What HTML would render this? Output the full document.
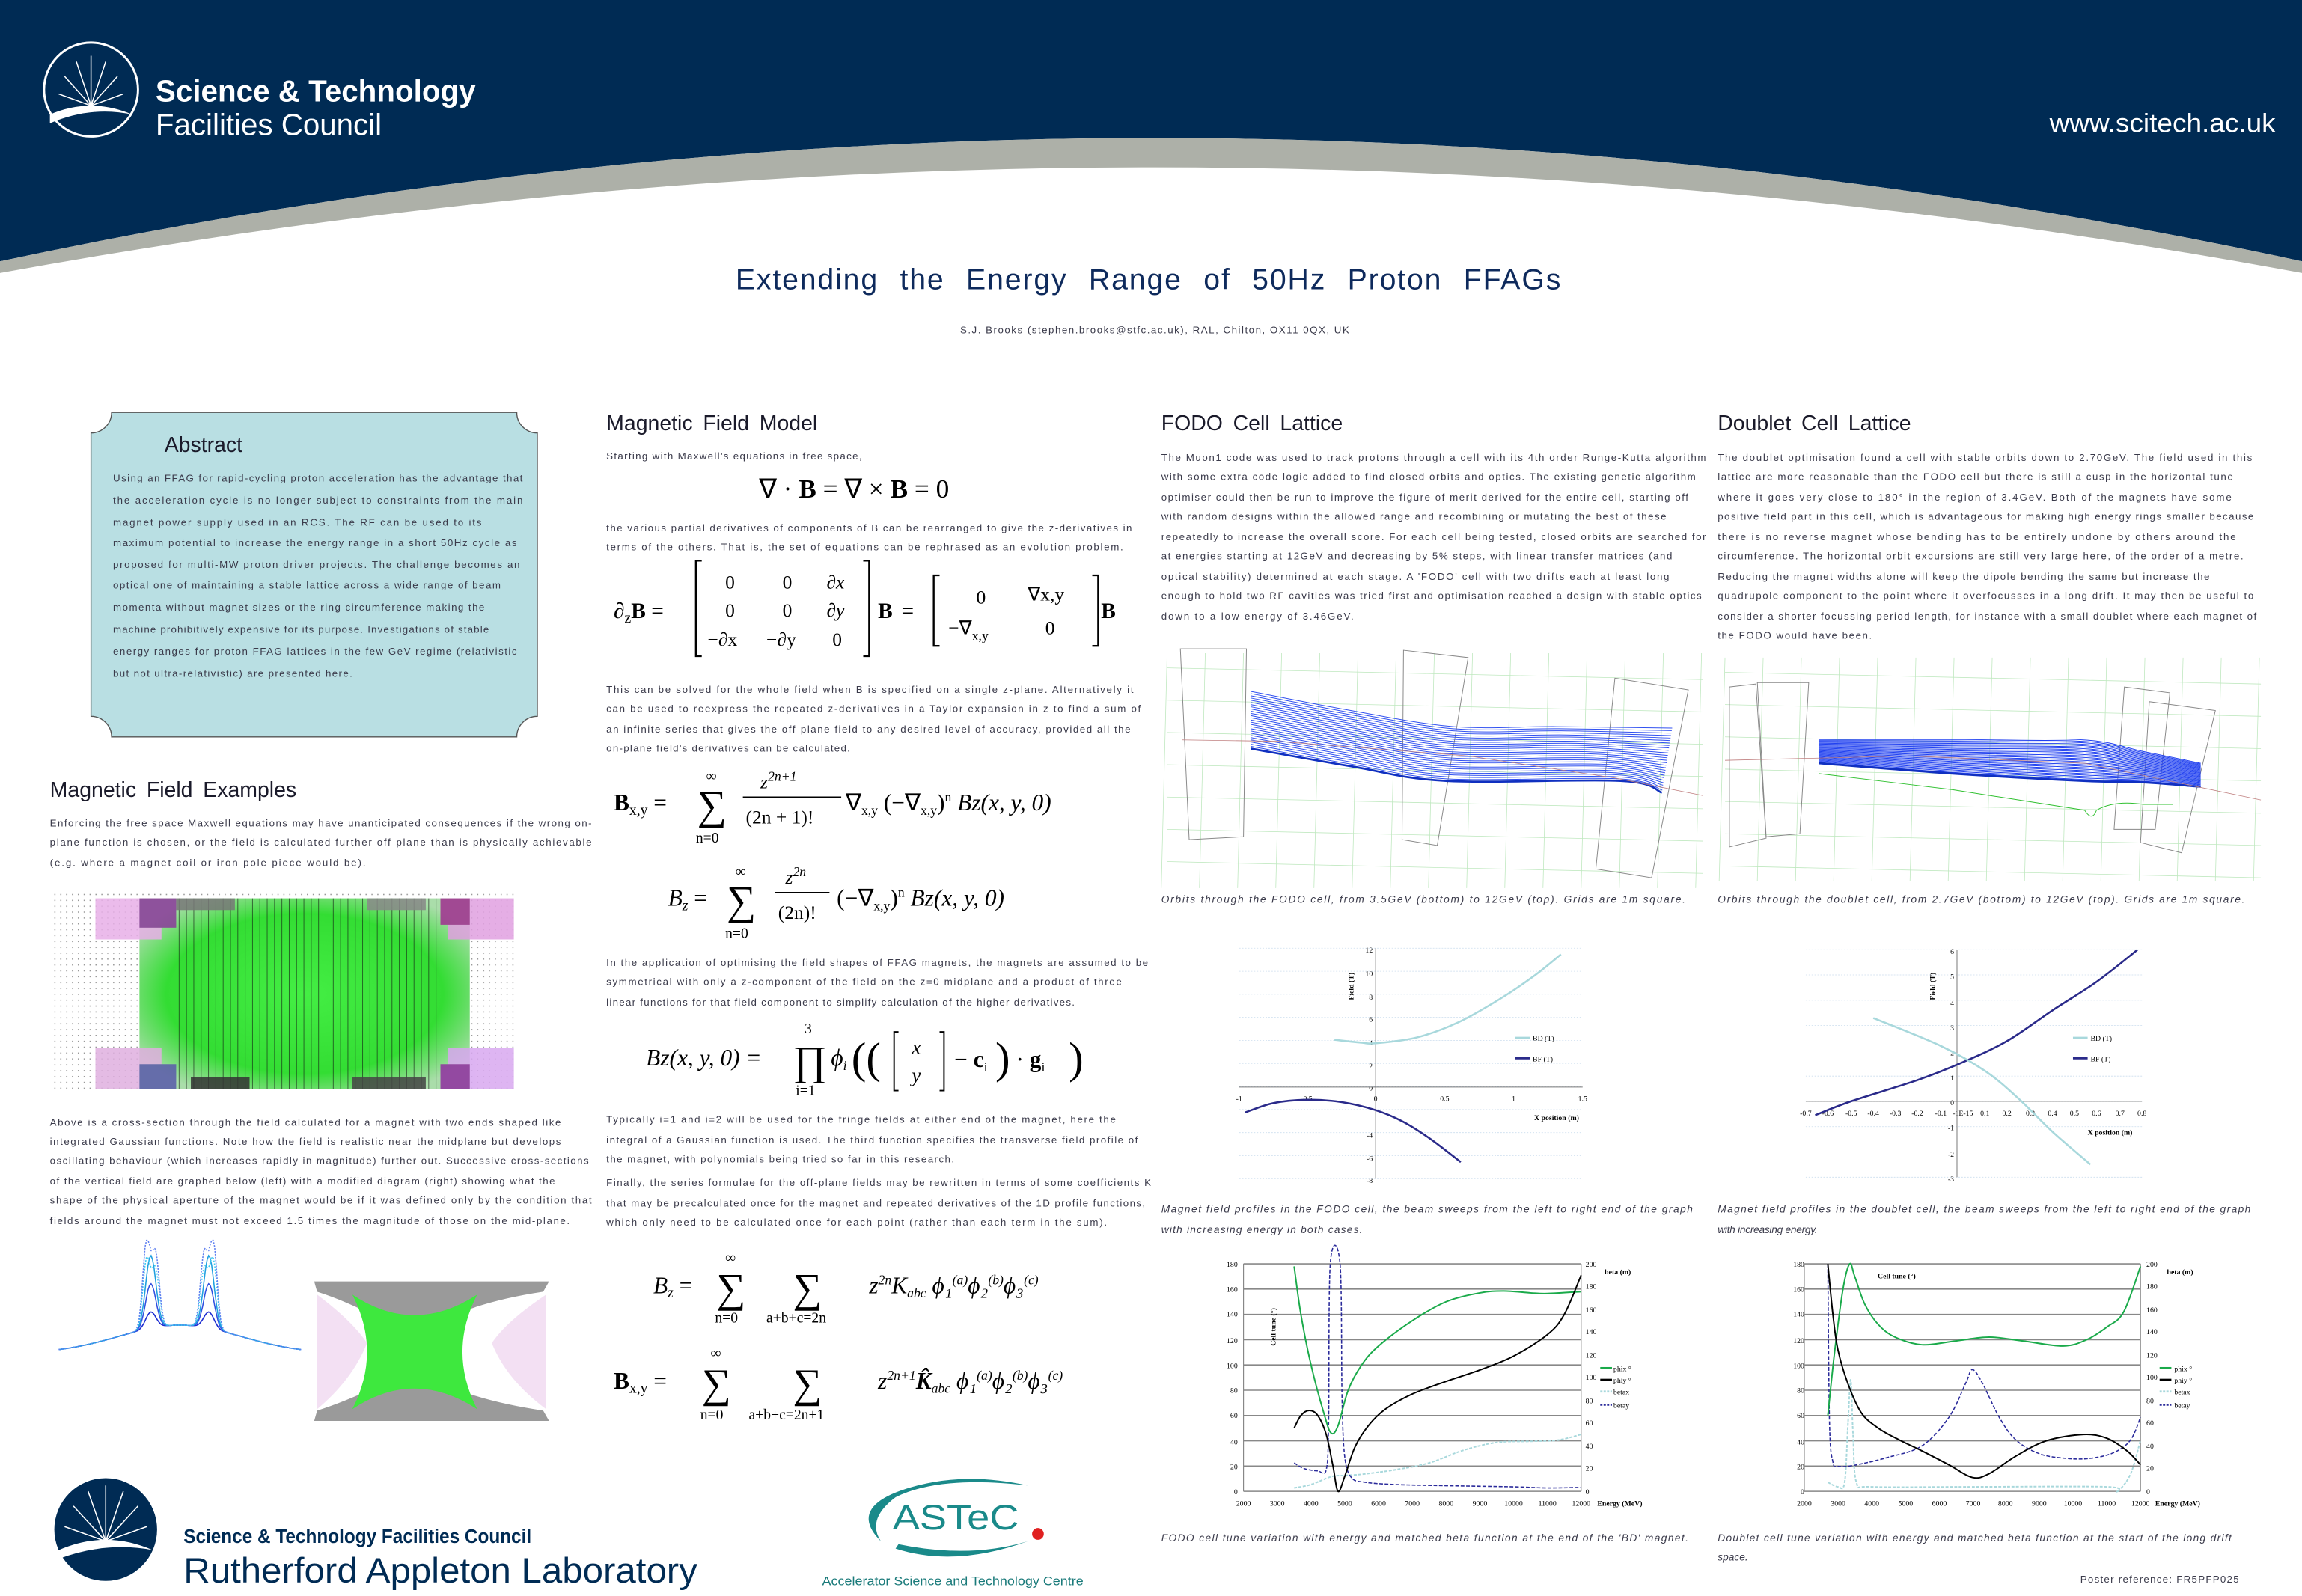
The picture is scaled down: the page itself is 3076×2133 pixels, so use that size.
<!DOCTYPE html>
<html><head><meta charset="utf-8">
<style>
html,body{margin:0;padding:0;background:#fff;}
svg{display:block;}
.b{font-family:"Liberation Sans",sans-serif;font-size:6.8px;fill:#3a3a4a;}
.c{font-family:"Liberation Sans",sans-serif;font-size:7px;fill:#3a3a4a;font-style:italic;}
.h{font-family:"Liberation Sans",sans-serif;font-size:14.5px;fill:#1a1a2a;word-spacing:3px;}
.e{font-family:"Liberation Serif",serif;fill:#000;}
.t{font-family:"Liberation Serif",serif;font-size:5px;fill:#000;}
.tb{font-family:"Liberation Serif",serif;font-size:5px;fill:#000;font-weight:bold;}
</style></head><body>
<svg xmlns="http://www.w3.org/2000/svg" width="3076" height="2133" viewBox="0 0 1568 1087.3" preserveAspectRatio="none">
<rect width="1568" height="1088" fill="#fff"/>
<path d="M0,0 H1568 V178 Q790,10 0,178 Z" fill="#002b54"/>
<path d="M0,178 Q790,10 1568,178 V186 Q790,42 0,186 Z" fill="#adb0a8"/>
<circle cx="62" cy="61" r="32" fill="none" stroke="#fff" stroke-width="1.5"/>
<g stroke="#fff" stroke-width="0.8">
<line x1="62" y1="72" x2="62" y2="38"/><line x1="62" y1="72" x2="52" y2="42"/><line x1="62" y1="72" x2="72" y2="42"/>
<line x1="62" y1="72" x2="44" y2="52"/><line x1="62" y1="72" x2="80" y2="52"/><line x1="62" y1="72" x2="40" y2="64"/><line x1="62" y1="72" x2="84" y2="64"/>
</g>
<path d="M34,78 Q62,66 90,78 Q62,72 34,84 Z" fill="#fff"/>
<text x="106" y="69" font-family="Liberation Sans,sans-serif" font-size="21" font-weight="bold" fill="#fff" textLength="218" lengthAdjust="spacingAndGlyphs">Science &amp; Technology</text>
<text x="106" y="92" font-family="Liberation Sans,sans-serif" font-size="21" fill="#fff" textLength="154" lengthAdjust="spacingAndGlyphs">Facilities Council</text>
<text x="1550" y="90" text-anchor="end" font-family="Liberation Sans,sans-serif" font-size="18" fill="#fff" textLength="154" lengthAdjust="spacingAndGlyphs">www.scitech.ac.uk</text>

<text x="501" y="197" font-family="Liberation Sans,sans-serif" font-size="20" fill="#0e2a5c" textLength="562" lengthAdjust="spacing" word-spacing="8">Extending the Energy Range of 50Hz Proton FFAGs</text>
<text x="654" y="227" class="b" font-size="6.5" textLength="265" lengthAdjust="spacing">S.J. Brooks (stephen.brooks@stfc.ac.uk), RAL, Chilton, OX11 0QX, UK</text>

<path d="M76,281 H352 A14,14 0 0 0 366,295 V488 A14,14 0 0 0 352,502 H76 A14,14 0 0 0 62,488 V295 A14,14 0 0 0 76,281 Z" fill="#b9dfe3" stroke="#555" stroke-width="0.7"/>
<text x="112" y="308" class="h">Abstract</text>
<g class="b">
<text x="77" y="328" textLength="279" lengthAdjust="spacing">Using an FFAG for rapid-cycling proton acceleration has the advantage that</text>
<text x="77" y="343" textLength="279" lengthAdjust="spacing">the acceleration cycle is no longer subject to constraints from the main</text>
<text x="77" y="358" textLength="251" lengthAdjust="spacing">magnet power supply used in an RCS. The RF can be used to its</text>
<text x="77" y="372" textLength="275" lengthAdjust="spacing">maximum potential to increase the energy range in a short 50Hz cycle as</text>
<text x="77" y="387" textLength="277" lengthAdjust="spacing">proposed for multi-MW proton driver projects. The challenge becomes an</text>
<text x="77" y="401" textLength="264" lengthAdjust="spacing">optical one of maintaining a stable lattice across a wide range of beam</text>
<text x="77" y="416" textLength="253" lengthAdjust="spacing">momenta without magnet sizes or the ring circumference making the</text>
<text x="77" y="431" textLength="256" lengthAdjust="spacing">machine prohibitively expensive for its purpose. Investigations of stable</text>
<text x="77" y="446" textLength="275" lengthAdjust="spacing">energy ranges for proton FFAG lattices in the few GeV regime (relativistic</text>
<text x="77" y="461" textLength="163" lengthAdjust="spacing">but not ultra-relativistic) are presented here.</text>
</g>

<text x="34" y="543" class="h">Magnetic Field Examples</text>
<g class="b">
<text x="34" y="563" textLength="369" lengthAdjust="spacing">Enforcing the free space Maxwell equations may have unanticipated consequences if the wrong on-</text>
<text x="34" y="576" textLength="369" lengthAdjust="spacing">plane function is chosen, or the field is calculated further off-plane than is physically achievable</text>
<text x="34" y="590" textLength="215" lengthAdjust="spacing">(e.g. where a magnet coil or iron pole piece would be).</text>
</g>
<defs>
<pattern id="dots" width="4" height="4" patternUnits="userSpaceOnUse"><rect x="1" y="1" width="0.8" height="0.8" fill="#999"/></pattern>
<radialGradient id="gr" cx="0.5" cy="0.5" r="0.6"><stop offset="0" stop-color="#44ee44"/><stop offset="0.7" stop-color="#33dd33"/><stop offset="1" stop-color="#aaddaa"/></radialGradient>
<pattern id="vl" width="5" height="10" patternUnits="userSpaceOnUse"><line x1="2" y1="0" x2="2" y2="10" stroke="#111" stroke-width="0.5"/></pattern>
</defs>
<rect x="36" y="608" width="314" height="136" fill="url(#dots)"/>
<rect x="95" y="612" width="225" height="130" fill="url(#gr)"/>
<rect x="120" y="612" width="180" height="130" fill="url(#vl)" opacity="0.6"/>
<g opacity="0.85">
<rect x="65" y="612" width="45" height="28" fill="#e8b0e8"/><rect x="305" y="612" width="45" height="28" fill="#e0a0e0"/>
<rect x="65" y="714" width="45" height="28" fill="#e0b0e0"/><rect x="305" y="714" width="45" height="28" fill="#d8a8f0"/>
<rect x="95" y="612" width="25" height="20" fill="#8a3a9a"/><rect x="300" y="612" width="20" height="18" fill="#a03090"/>
<rect x="95" y="725" width="25" height="17" fill="#5a5aaa"/><rect x="300" y="725" width="20" height="17" fill="#9030a0"/>
<rect x="120" y="612" width="40" height="8" fill="#777"/><rect x="250" y="612" width="40" height="8" fill="#888"/>
<rect x="130" y="734" width="40" height="8" fill="#333"/><rect x="240" y="734" width="50" height="8" fill="#444"/>
</g>
<g class="b">
<text x="34" y="767" textLength="348" lengthAdjust="spacing">Above is a cross-section through the field calculated for a magnet with two ends shaped like</text>
<text x="34" y="780" textLength="348" lengthAdjust="spacing">integrated Gaussian functions.  Note how the field is realistic near the midplane but develops</text>
<text x="34" y="793" textLength="367" lengthAdjust="spacing">oscillating behaviour (which increases rapidly in magnitude) further out.  Successive cross-sections</text>
<text x="34" y="807" textLength="344" lengthAdjust="spacing">of the vertical field are graphed below (left) with a modified diagram (right) showing what the</text>
<text x="34" y="820" textLength="369" lengthAdjust="spacing">shape of the physical aperture of the magnet would be if it was defined only by the condition that</text>
<text x="34" y="834" textLength="354" lengthAdjust="spacing">fields around the magnet must not exceed 1.5 times the magnitude of those on the mid-plane.</text>
</g>
<g id="osc" fill="none" stroke-width="0.8"></g>
<path d="M214,873 L374,873 L370,880 Q330,886 305,898 L258,898 Q235,886 216,880 Z" fill="#9a9a9a"/>
<path d="M214,968 L374,968 L370,961 Q330,955 305,944 L258,944 Q235,955 216,961 Z" fill="#9a9a9a"/>
<path d="M240,882 Q282,910 325,882 Q305,921 325,960 Q282,932 240,960 Q260,921 240,882 Z" fill="#3ee83e"/>
<path d="M216,882 Q240,900 250,915 Q240,940 216,960 Z" fill="#f0d8f0" opacity="0.8"/>
<path d="M372,882 Q345,900 335,915 Q345,940 372,960 Z" fill="#f0d8f0" opacity="0.8"/>

<text x="413" y="293" class="h">Magnetic Field Model</text>
<g class="b">
<text x="413" y="313" textLength="174" lengthAdjust="spacing">Starting with Maxwell's equations in free space,</text>
<text x="413" y="362" textLength="358" lengthAdjust="spacing">the various partial derivatives of components of B can be rearranged to give the z-derivatives in</text>
<text x="413" y="375" textLength="352" lengthAdjust="spacing">terms of the others.  That is, the set of equations can be rephrased as an evolution problem.</text>
<text x="413" y="472" textLength="359" lengthAdjust="spacing">This can be solved for the whole field when B is specified on a single z-plane.  Alternatively it</text>
<text x="413" y="485" textLength="364" lengthAdjust="spacing">can be used to reexpress the repeated z-derivatives in a Taylor expansion in z to find a sum of</text>
<text x="413" y="499" textLength="357" lengthAdjust="spacing">an infinite series that gives the off-plane field to any desired level of accuracy, provided all the</text>
<text x="413" y="512" textLength="166" lengthAdjust="spacing">on-plane field's derivatives can be calculated.</text>
<text x="413" y="658" textLength="369" lengthAdjust="spacing">In the application of optimising the field shapes of FFAG magnets, the magnets are assumed to be</text>
<text x="413" y="671" textLength="351" lengthAdjust="spacing">symmetrical with only a z-component of the field on the z=0 midplane and a product of three</text>
<text x="413" y="685" textLength="319" lengthAdjust="spacing">linear functions for that field component to simplify calculation of the higher derivatives.</text>
<text x="413" y="765" textLength="347" lengthAdjust="spacing">Typically i=1 and i=2 will be used for the fringe fields at either end of the magnet, here the</text>
<text x="413" y="779" textLength="362" lengthAdjust="spacing">integral of a Gaussian function is used.  The third function specifies the transverse field profile of</text>
<text x="413" y="792" textLength="237" lengthAdjust="spacing">the magnet, with polynomials being tried so far in this research.</text>
<text x="413" y="808" textLength="371" lengthAdjust="spacing">Finally, the series formulae for the off-plane fields may be rewritten in terms of some coefficients K</text>
<text x="413" y="822" textLength="367" lengthAdjust="spacing">that may be precalculated once for the magnet and repeated derivatives of the 1D profile functions,</text>
<text x="413" y="835" textLength="341" lengthAdjust="spacing">which only need to be calculated once for each point (rather than each term in the sum).</text>
</g>
<text x="517" y="339" class="e" font-size="18">∇ · <tspan font-weight="bold">B</tspan> = ∇ × <tspan font-weight="bold">B</tspan> = 0</text>
<g class="e" font-size="15">
<text x="418" y="421">∂<tspan font-size="10" dy="3">z</tspan><tspan dy="-3" font-weight="bold">B</tspan> =</text>
<path d="M478,382 h-4 v65 h4 M588,382 h4 v65 h-4 M640,392 h-4 v48 h4 M744,392 h4 v48 h-4" stroke="#000" fill="none" stroke-width="1.2"/>
<text x="494" y="401" font-size="13">0</text><text x="533" y="401" font-size="13">0</text><text x="563" y="401" font-style="italic" font-size="13">∂x</text>
<text x="494" y="420" font-size="13">0</text><text x="533" y="420" font-size="13">0</text><text x="563" y="420" font-style="italic" font-size="13">∂y</text>
<text x="482" y="440" font-size="13">−∂x</text><text x="522" y="440" font-size="13">−∂y</text><text x="567" y="440" font-size="13">0</text>
<text x="598" y="421" font-weight="bold">B</text><text x="614" y="421">=</text>
<text x="665" y="411" font-size="13">0</text><text x="700" y="409" font-size="13">∇x,y</text>
<text x="646" y="432" font-size="13">−∇<tspan font-size="9" dy="4">x,y</tspan></text><text x="712" y="432" font-size="13">0</text>
<text x="750" y="421" font-weight="bold">B</text>
</g>
<g class="e" font-size="16">
<text x="418" y="552"><tspan font-weight="bold">B</tspan><tspan font-size="10" dy="3">x,y</tspan><tspan dy="-3"> = </tspan></text>
<text x="475" y="558" font-size="28">∑</text><text x="481" y="532" font-size="10">∞</text><text x="474" y="574" font-size="10">n=0</text>
<text x="518" y="537" font-size="13" font-style="italic">z<tspan font-size="9" dy="-5">2n+1</tspan></text>
<line x1="506" y1="543" x2="573" y2="543" stroke="#000" stroke-width="0.8"/>
<text x="508" y="561" font-size="13">(2n + 1)!</text>
<text x="576" y="552">∇<tspan font-size="9" dy="3">x,y</tspan><tspan dy="-3"> (−∇</tspan><tspan font-size="9" dy="3">x,y</tspan><tspan dy="-3">)</tspan><tspan font-size="9" dy="-6">n</tspan><tspan dy="6" font-style="italic"> Bz(x, y, 0)</tspan></text>
<text x="455" y="617" font-style="italic">B<tspan font-size="10" dy="3">z</tspan><tspan dy="-3" font-style="normal"> = </tspan></text>
<text x="495" y="623" font-size="28">∑</text><text x="501" y="597" font-size="10">∞</text><text x="494" y="639" font-size="10">n=0</text>
<text x="535" y="602" font-size="13" font-style="italic">z<tspan font-size="9" dy="-5">2n</tspan></text>
<line x1="528" y1="608" x2="565" y2="608" stroke="#000" stroke-width="0.8"/>
<text x="530" y="626" font-size="13">(2n)!</text>
<text x="570" y="617">(−∇<tspan font-size="9" dy="3">x,y</tspan><tspan dy="-3">)</tspan><tspan font-size="9" dy="-6">n</tspan><tspan dy="6" font-style="italic"> Bz(x, y, 0)</tspan></text>
<text x="440" y="726" font-style="italic">Bz(x, y, 0) = </text>
<text x="540" y="732" font-size="28">∏</text><text x="548" y="704" font-size="10">3</text><text x="542" y="746" font-size="10">i=1</text>
<text x="566" y="726" font-style="italic">ϕ<tspan font-size="9" dy="3">i</tspan></text>
<text x="580" y="731" font-size="30">((</text>
<path d="M612,703 h-3 v40 h3 M640,703 h3 v40 h-3" stroke="#000" fill="none"/>
<text x="621" y="718" font-style="italic" font-size="14">x</text><text x="621" y="737" font-style="italic" font-size="14">y</text>
<text x="650" y="727">− <tspan font-weight="bold">c</tspan><tspan font-size="9" dy="3">i</tspan></text>
<text x="678" y="731" font-size="30">)</text><text x="692" y="727">· <tspan font-weight="bold">g</tspan><tspan font-size="9" dy="3">i</tspan></text>
<text x="728" y="731" font-size="30">)</text>
<text x="445" y="881" font-style="italic">B<tspan font-size="10" dy="3">z</tspan><tspan dy="-3" font-style="normal"> = </tspan></text>
<text x="488" y="887" font-size="28">∑</text><text x="494" y="860" font-size="10">∞</text><text x="487" y="901" font-size="10">n=0</text>
<text x="540" y="887" font-size="28">∑</text><text x="522" y="901" font-size="10">a+b+c=2n</text>
<text x="592" y="881" font-style="italic">z<tspan font-size="9" dy="-6">2n</tspan><tspan dy="6">K</tspan><tspan font-size="9" dy="3">abc</tspan><tspan dy="-3"> ϕ₁</tspan><tspan font-size="9" dy="-6">(a)</tspan><tspan dy="6">ϕ₂</tspan><tspan font-size="9" dy="-6">(b)</tspan><tspan dy="6">ϕ₃</tspan><tspan font-size="9" dy="-6">(c)</tspan></text>
<text x="418" y="946"><tspan font-weight="bold">B</tspan><tspan font-size="10" dy="3">x,y</tspan><tspan dy="-3"> = </tspan></text>
<text x="478" y="952" font-size="28">∑</text><text x="484" y="925" font-size="10">∞</text><text x="477" y="967" font-size="10">n=0</text>
<text x="540" y="952" font-size="28">∑</text><text x="510" y="967" font-size="10">a+b+c=2n+1</text>
<text x="598" y="946" font-style="italic">z<tspan font-size="9" dy="-6">2n+1</tspan><tspan dy="6" font-weight="bold">K̂</tspan><tspan font-size="9" dy="3">abc</tspan><tspan dy="-3"> ϕ₁</tspan><tspan font-size="9" dy="-6">(a)</tspan><tspan dy="6">ϕ₂</tspan><tspan font-size="9" dy="-6">(b)</tspan><tspan dy="6">ϕ₃</tspan><tspan font-size="9" dy="-6">(c)</tspan></text>
</g>

<text x="791" y="293" class="h">FODO Cell Lattice</text>
<g class="b">
<text x="791" y="314" textLength="371" lengthAdjust="spacing">The Muon1 code was used to track protons through a cell with its 4th order Runge-Kutta algorithm</text>
<text x="791" y="327" textLength="364" lengthAdjust="spacing">with some extra code logic added to find closed orbits and optics.  The existing genetic algorithm</text>
<text x="791" y="341" textLength="359" lengthAdjust="spacing">optimiser could then be run to improve the figure of merit derived for the entire cell, starting off</text>
<text x="791" y="354" textLength="344" lengthAdjust="spacing">with random designs within the allowed range and recombining or mutating the best of these</text>
<text x="791" y="368" textLength="371" lengthAdjust="spacing">repeatedly to increase the overall score.  For each cell being tested, closed orbits are searched for</text>
<text x="791" y="381" textLength="348" lengthAdjust="spacing">at energies starting at 12GeV and decreasing by 5% steps, with linear transfer matrices (and</text>
<text x="791" y="395" textLength="346" lengthAdjust="spacing">optical stability) determined at each stage.  A 'FODO' cell with two drifts each at least long</text>
<text x="791" y="408" textLength="368" lengthAdjust="spacing">enough to hold two RF cavities was tried first and optimisation reached a design with stable optics</text>
<text x="791" y="422" textLength="131" lengthAdjust="spacing">down to a low energy of 3.46GeV.</text>
</g>
<g class="c">
<text x="791" y="615" textLength="357" lengthAdjust="spacing">Orbits through the FODO cell, from 3.5GeV (bottom) to 12GeV (top).  Grids are 1m square.</text>
<text x="791" y="826" textLength="362" lengthAdjust="spacing">Magnet field profiles in the FODO cell, the beam sweeps from the left to right end of the graph</text>
<text x="791" y="840" textLength="137" lengthAdjust="spacing">with increasing energy in both cases.</text>
<text x="791" y="1050" textLength="359" lengthAdjust="spacing">FODO cell tune variation with energy and matched beta function at the end of the 'BD' magnet.</text>
</g>

<text x="1170" y="293" class="h">Doublet Cell Lattice</text>
<g class="b">
<text x="1170" y="314" textLength="364" lengthAdjust="spacing">The doublet optimisation found a cell with stable orbits down to 2.70GeV.  The field used in this</text>
<text x="1170" y="327" textLength="351" lengthAdjust="spacing">lattice are more reasonable than the FODO cell but there is still a cusp in the horizontal tune</text>
<text x="1170" y="341" textLength="350" lengthAdjust="spacing">where it goes very close to 180° in the region of 3.4GeV.  Both of the magnets have some</text>
<text x="1170" y="354" textLength="365" lengthAdjust="spacing">positive field part in this cell, which is advantageous for making high energy rings smaller because</text>
<text x="1170" y="368" textLength="353" lengthAdjust="spacing">there is no reverse magnet whose bending has to be entirely undone by others around the</text>
<text x="1170" y="381" textLength="358" lengthAdjust="spacing">circumference.  The horizontal orbit excursions are still very large here, of the order of a metre.</text>
<text x="1170" y="395" textLength="335" lengthAdjust="spacing">Reducing the magnet widths alone will keep the dipole bending the same but increase the</text>
<text x="1170" y="408" textLength="365" lengthAdjust="spacing">quadrupole component to the point where it overfocusses in a long drift.  It may then be useful to</text>
<text x="1170" y="422" textLength="367" lengthAdjust="spacing">consider a shorter focussing period length, for instance with a small doublet where each magnet of</text>
<text x="1170" y="435" textLength="105" lengthAdjust="spacing">the FODO would have been.</text>
</g>
<g class="c">
<text x="1170" y="615" textLength="359" lengthAdjust="spacing">Orbits through the doublet cell, from 2.7GeV (bottom) to 12GeV (top).  Grids are 1m square.</text>
<text x="1170" y="826" textLength="363" lengthAdjust="spacing">Magnet field profiles in the doublet cell, the beam sweeps from the left to right end of the graph</text>
<text x="1170" y="840" textLength="68" lengthAdjust="spacing">with increasing energy.</text>
<text x="1170" y="1050" textLength="350" lengthAdjust="spacing">Doublet cell tune variation with energy and matched beta function at the start of the long drift</text>
<text x="1170" y="1063">space.</text>
</g>
<text x="1525" y="1078" text-anchor="end" class="b" textLength="108" lengthAdjust="spacing">Poster reference: FR5PFP025</text>

<g id="lat"></g>

<g class="t">
<text x="935" y="649" text-anchor="end">12</text><text x="935" y="665" text-anchor="end">10</text><text x="935" y="681" text-anchor="end">8</text><text x="935" y="696" text-anchor="end">6</text><text x="935" y="712" text-anchor="end">4</text><text x="935" y="728" text-anchor="end">2</text><text x="935" y="743" text-anchor="end">0</text><text x="935" y="775" text-anchor="end">-4</text><text x="935" y="791" text-anchor="end">-6</text><text x="935" y="806" text-anchor="end">-8</text>
<text x="844" y="750" text-anchor="middle">-1</text><text x="890" y="750" text-anchor="middle">-0.5</text><text x="937" y="750" text-anchor="middle">0</text><text x="984" y="750" text-anchor="middle">0.5</text><text x="1031" y="750" text-anchor="middle">1</text><text x="1078" y="750" text-anchor="middle">1.5</text>
<text x="1044" y="709">BD (T)</text><text x="1044" y="723">BF (T)</text>
<text x="1331" y="650" text-anchor="end">6</text><text x="1331" y="667" text-anchor="end">5</text><text x="1331" y="685" text-anchor="end">4</text><text x="1331" y="702" text-anchor="end">3</text><text x="1331" y="719" text-anchor="end">2</text><text x="1331" y="736" text-anchor="end">1</text><text x="1331" y="753" text-anchor="end">0</text><text x="1331" y="770" text-anchor="end">-1</text><text x="1331" y="788" text-anchor="end">-2</text><text x="1331" y="805" text-anchor="end">-3</text>
<text x="1230" y="760" text-anchor="middle">-0.7</text><text x="1245" y="760" text-anchor="middle">-0.6</text><text x="1261" y="760" text-anchor="middle">-0.5</text><text x="1276" y="760" text-anchor="middle">-0.4</text><text x="1291" y="760" text-anchor="middle">-0.3</text><text x="1306" y="760" text-anchor="middle">-0.2</text><text x="1322" y="760" text-anchor="middle">-0.1</text><text x="1337" y="760" text-anchor="middle">-1E-15</text><text x="1352" y="760" text-anchor="middle">0.1</text><text x="1367" y="760" text-anchor="middle">0.2</text><text x="1383" y="760" text-anchor="middle">0.3</text><text x="1398" y="760" text-anchor="middle">0.4</text><text x="1413" y="760" text-anchor="middle">0.5</text><text x="1428" y="760" text-anchor="middle">0.6</text><text x="1444" y="760" text-anchor="middle">0.7</text><text x="1459" y="760" text-anchor="middle">0.8</text>
<text x="1424" y="709">BD (T)</text><text x="1424" y="723">BF (T)</text>
</g>
<g class="tb">
<text x="1045" y="763">X position (m)</text>
<text x="1422" y="773">X position (m)</text>
<text transform="translate(922,672) rotate(-90)" text-anchor="middle">Field (T)</text>
<text transform="translate(1318,672) rotate(-90)" text-anchor="middle">Field (T)</text>
</g>
<g id="fld"></g>

<g id="tune"></g>
<g class="t">
<text x="843" y="1018" text-anchor="end">0</text><text x="843" y="1001" text-anchor="end">20</text><text x="843" y="984" text-anchor="end">40</text><text x="843" y="966" text-anchor="end">60</text><text x="843" y="949" text-anchor="end">80</text><text x="843" y="932" text-anchor="end">100</text><text x="843" y="915" text-anchor="end">120</text><text x="843" y="897" text-anchor="end">140</text><text x="843" y="880" text-anchor="end">160</text><text x="843" y="863" text-anchor="end">180</text>
<text x="1080" y="1018">0</text><text x="1080" y="1002">20</text><text x="1080" y="987">40</text><text x="1080" y="971">60</text><text x="1080" y="956">80</text><text x="1080" y="940">100</text><text x="1080" y="925">120</text><text x="1080" y="909">140</text><text x="1080" y="894">160</text><text x="1080" y="878">180</text><text x="1080" y="863">200</text>
<text x="847" y="1026" text-anchor="middle">2000</text><text x="870" y="1026" text-anchor="middle">3000</text><text x="893" y="1026" text-anchor="middle">4000</text><text x="916" y="1026" text-anchor="middle">5000</text><text x="939" y="1026" text-anchor="middle">6000</text><text x="962" y="1026" text-anchor="middle">7000</text><text x="985" y="1026" text-anchor="middle">8000</text><text x="1008" y="1026" text-anchor="middle">9000</text><text x="1031" y="1026" text-anchor="middle">10000</text><text x="1054" y="1026" text-anchor="middle">11000</text><text x="1077" y="1026" text-anchor="middle">12000</text>
<text x="1099" y="934">phix °</text><text x="1099" y="942">phiy °</text><text x="1099" y="950">betax</text><text x="1099" y="959">betay</text>
<text x="1229" y="1018" text-anchor="end">0</text><text x="1229" y="1001" text-anchor="end">20</text><text x="1229" y="984" text-anchor="end">40</text><text x="1229" y="966" text-anchor="end">60</text><text x="1229" y="949" text-anchor="end">80</text><text x="1229" y="932" text-anchor="end">100</text><text x="1229" y="915" text-anchor="end">120</text><text x="1229" y="897" text-anchor="end">140</text><text x="1229" y="880" text-anchor="end">160</text><text x="1229" y="863" text-anchor="end">180</text>
<text x="1462" y="1018">0</text><text x="1462" y="1002">20</text><text x="1462" y="987">40</text><text x="1462" y="971">60</text><text x="1462" y="956">80</text><text x="1462" y="940">100</text><text x="1462" y="925">120</text><text x="1462" y="909">140</text><text x="1462" y="894">160</text><text x="1462" y="878">180</text><text x="1462" y="863">200</text>
<text x="1229" y="1026" text-anchor="middle">2000</text><text x="1252" y="1026" text-anchor="middle">3000</text><text x="1275" y="1026" text-anchor="middle">4000</text><text x="1298" y="1026" text-anchor="middle">5000</text><text x="1321" y="1026" text-anchor="middle">6000</text><text x="1344" y="1026" text-anchor="middle">7000</text><text x="1366" y="1026" text-anchor="middle">8000</text><text x="1389" y="1026" text-anchor="middle">9000</text><text x="1412" y="1026" text-anchor="middle">10000</text><text x="1435" y="1026" text-anchor="middle">11000</text><text x="1458" y="1026" text-anchor="middle">12000</text>
<text x="1481" y="934">phix °</text><text x="1481" y="942">phiy °</text><text x="1481" y="950">betax</text><text x="1481" y="959">betay</text>
</g>
<g class="tb">
<text x="1088" y="1026">Energy (MeV)</text><text x="1468" y="1026">Energy (MeV)</text>
<text x="1093" y="868">beta (m)</text><text x="1476" y="868">beta (m)</text>
<text x="1279" y="871">Cell tune (°)</text>
<text transform="translate(869,904) rotate(-90)" text-anchor="middle">Cell tune (°)</text>
</g>

<circle cx="72" cy="1042" r="35" fill="#002b54"/>
<g stroke="#fff" stroke-width="0.8"><line x1="72" y1="1050" x2="72" y2="1012"/><line x1="72" y1="1050" x2="60" y2="1016"/><line x1="72" y1="1050" x2="84" y2="1016"/><line x1="72" y1="1050" x2="50" y2="1026"/><line x1="72" y1="1050" x2="94" y2="1026"/><line x1="72" y1="1050" x2="44" y2="1040"/><line x1="72" y1="1050" x2="100" y2="1040"/></g>
<path d="M40,1056 Q72,1042 104,1056 Q72,1050 40,1062 Z" fill="#fff"/>
<text x="125" y="1051" font-family="Liberation Sans,sans-serif" font-size="13" font-weight="bold" fill="#002b54" textLength="237" lengthAdjust="spacingAndGlyphs">Science &amp; Technology Facilities Council</text>
<text x="125" y="1078" font-family="Liberation Sans,sans-serif" font-size="24" fill="#002b54" textLength="350" lengthAdjust="spacingAndGlyphs">Rutherford Appleton Laboratory</text>
<path d="M600,1050 Q575,1025 625,1012 Q660,1003 700,1012 Q640,1005 610,1020 Q590,1035 600,1050 Z" fill="#1a8a8a"/>
<path d="M610,1055 Q650,1068 700,1050 Q660,1062 612,1052 Z" fill="#1a8a8a"/>
<text x="608" y="1042" font-family="Liberation Sans,sans-serif" font-size="24" fill="#1a8a8a" textLength="86" lengthAdjust="spacingAndGlyphs">ASTeC</text>
<circle cx="707" cy="1045" r="4" fill="#e02020"/>
<text x="560" y="1080" font-family="Liberation Sans,sans-serif" font-size="8.5" fill="#1a7a7a" textLength="178" lengthAdjust="spacingAndGlyphs">Accelerator Science and Technology Centre</text>
</svg>
<script>
var NS="http://www.w3.org/2000/svg";
function el(p,t,a){var e=document.createElementNS(NS,t);for(var k in a)e.setAttribute(k,a[k]);p.appendChild(e);return e;}
function smooth(pts){var d="M"+pts[0][0].toFixed(2)+","+pts[0][1].toFixed(2);
for(var i=0;i<pts.length-1;i++){var p0=pts[i-1]||pts[i],p1=pts[i],p2=pts[i+1],p3=pts[i+2]||p2;
var c1=[p1[0]+(p2[0]-p0[0])/6,p1[1]+(p2[1]-p0[1])/6],c2=[p2[0]-(p3[0]-p1[0])/6,p2[1]-(p3[1]-p1[1])/6];
d+=" C"+c1[0].toFixed(2)+","+c1[1].toFixed(2)+" "+c2[0].toFixed(2)+","+c2[1].toFixed(2)+" "+p2[0].toFixed(2)+","+p2[1].toFixed(2);}return d;}
var tg=document.getElementById("tune");
function chart(x0,x1,yT,yB,S){
 var h=yB-yT,w=x1-x0;
 for(var i=0;i<=9;i++){var y=yB-i*h/9;el(tg,"line",{x1:x0,x2:x1,y1:y,y2:y,stroke:"#888","stroke-width":0.8});}
 el(tg,"line",{x1:x0,x2:x0,y1:yT,y2:yB,stroke:"#888","stroke-width":0.6});
 el(tg,"line",{x1:x1,x2:x1,y1:yT,y2:yB,stroke:"#888","stroke-width":0.6});
 function mx(E){return x0+(E-2000)/10000*w;}
 function L(d){return d.map(function(p){return [mx(p[0]),yB-p[1]/180*h];});}
 function R(d){return d.map(function(p){return [mx(p[0]),yB-p[1]/200*h];});}
 el(tg,"path",{d:smooth(R(S.bx)),fill:"none",stroke:"#a8d8dc","stroke-width":1,"stroke-dasharray":"2,1"});
 el(tg,"path",{d:smooth(R(S.by)),fill:"none",stroke:"#2a2a9a","stroke-width":0.8,"stroke-dasharray":"2.5,1.2"});
 el(tg,"path",{d:smooth(L(S.px)),fill:"none",stroke:"#1aaa4a","stroke-width":1});
 el(tg,"path",{d:smooth(L(S.py)),fill:"none",stroke:"#000","stroke-width":1});
 var lx=x1+13;
 el(tg,"line",{x1:lx,x2:lx+8,y1:932,y2:932,stroke:"#1aaa4a","stroke-width":1.4});
 el(tg,"line",{x1:lx,x2:lx+8,y1:940,y2:940,stroke:"#000","stroke-width":1.4});
 el(tg,"line",{x1:lx,x2:lx+8,y1:948,y2:948,stroke:"#a8d8dc","stroke-width":1.4,"stroke-dasharray":"1.5,0.8"});
 el(tg,"line",{x1:lx,x2:lx+8,y1:957,y2:957,stroke:"#2a2a9a","stroke-width":1.4,"stroke-dasharray":"1.5,0.8"});
}
chart(847,1077,861,1016,{
 px:[[3500,178],[3700,140],[4000,100],[4400,60],[4600,46],[4800,52],[5100,80],[5500,100],[6000,115],[7000,135],[8000,150],[9000,157],[9700,158.5],[10500,157],[11000,156.5],[12000,158]],
 py:[[3500,50],[3700,60],[3950,64],[4200,60],[4450,45],[4650,20],[4800,0],[5000,12],[5300,35],[5700,52],[6200,65],[7000,77],[8000,87],[9000,96],[10000,107],[11000,124],[11500,140],[12000,171]],
 bx:[[3500,3],[4000,6],[4600,13],[5000,14],[5500,15],[6500,19],[7500,25],[8500,36],[9500,43],[10500,44],[11300,45],[12000,50]],
 by:[[3500,25],[3800,20],[4200,18],[4450,19],[4520,60],[4570,200],[4860,200],[4920,80],[5000,30],[5200,12],[5600,8],[6500,6],[8000,5],[10000,4],[11000,3],[12000,3.5]]});
chart(1229,1458,861,1016,{
 px:[[2700,60],[2900,110],[3150,160],[3350,180],[3500,170],[3800,148],[4200,132],[4700,122],[5500,116],[6500,119],[7500,122],[8500,119],[9700,115],[10400,120],[11000,130],[11500,142],[12000,178]],
 py:[[2700,180],[2850,140],[3000,112],[3300,85],[3700,62],[4200,50],[4800,41],[5500,32],[6300,21],[7000,11],[7500,14],[8300,28],[9200,40],[10300,45],[11000,42],[11600,32],[12000,21]],
 bx:[[2700,8],[3000,4],[3200,8],[3300,60],[3380,98],[3450,50],[3550,8],[4000,4],[7000,4],[11000,4],[11300,0],[11700,15],[12000,45]],
 by:[[2700,200],[2750,60],[2850,26],[3000,22],[3500,23],[4500,30],[5500,40],[6300,65],[6800,95],[7000,107],[7300,95],[7800,65],[8300,45],[9000,33],[9800,29],[10500,29],[11200,34],[11700,45],[12000,65]]});
var fg=document.getElementById("fld");
function fieldG(x0,x1,yT,yB,ax,ay,n){
 for(var i=0;i<=n;i++){var y=yT+i*(yB-yT)/n;el(fg,"line",{x1:x0,x2:x1,y1:y,y2:y,stroke:"#cde","stroke-width":0.4,"stroke-dasharray":"1,1"});}
 el(fg,"line",{x1:x0,x2:x1,y1:ay,y2:ay,stroke:"#777","stroke-width":0.5});
 el(fg,"line",{x1:ax,x2:ax,y1:yT,y2:yB,stroke:"#777","stroke-width":0.5});
}
fieldG(844,1078,646,803,937,740.6,10);
function f1(d){return d.map(function(p){return [937+p[0]*93.5,740.6-p[1]*7.86];});}
el(fg,"path",{d:smooth(f1([[-0.3,4.1],[-0.1,3.85],[0,3.8],[0.3,4.3],[0.6,5.6],[0.9,7.6],[1.15,9.6],[1.35,11.5]])),fill:"none",stroke:"#a8d8dc","stroke-width":1.3});
el(fg,"path",{d:smooth(f1([[-0.95,-2.2],[-0.75,-1.4],[-0.5,-1.1],[-0.25,-1.3],[0,-2],[0.2,-3],[0.4,-4.5],[0.62,-6.5]])),fill:"none",stroke:"#2a2a8a","stroke-width":1.3});
el(fg,"line",{x1:1032,x2:1042,y1:707,y2:707,stroke:"#a8d8dc","stroke-width":1.4});
el(fg,"line",{x1:1032,x2:1042,y1:721,y2:721,stroke:"#2a2a8a","stroke-width":1.4});
fieldG(1230,1459,647,802,1333,750.3,9);
function f2(d){return d.map(function(p){return [1337+p[0]*152.4,750.3-p[1]*17.2];});}
el(fg,"path",{d:smooth(f2([[-0.66,-0.55],[-0.5,0],[-0.2,0.85],[0,1.55],[0.2,2.4],[0.4,3.6],[0.6,4.75],[0.78,6]])),fill:"none",stroke:"#2a2a8a","stroke-width":1.3});
el(fg,"path",{d:smooth(f2([[-0.4,3.3],[-0.1,2.2],[0.1,1.2],[0.25,0.1],[0.4,-1.2],[0.57,-2.5]])),fill:"none",stroke:"#a8d8dc","stroke-width":1.3});
el(fg,"line",{x1:1412,x2:1422,y1:707,y2:707,stroke:"#a8d8dc","stroke-width":1.4});
el(fg,"line",{x1:1412,x2:1422,y1:721,y2:721,stroke:"#2a2a8a","stroke-width":1.4});
var lg=document.getElementById("lat");
function grid(x0,x1,y0,y1){
 for(var x=x0;x<=x1;x+=26){el(lg,"line",{x1:x,x2:x-4,y1:y0,y2:y1,stroke:"#bfe8bf","stroke-width":0.4});}
 for(var y=y0+10;y<=y1;y+=22){el(lg,"line",{x1:x0,x2:x1,y1:y,y2:y+8,stroke:"#bfe8bf","stroke-width":0.4});}
}
grid(795,1160,445,605);grid(1175,1540,448,600);
function box(pts){el(lg,"polygon",{points:pts,fill:"none",stroke:"#888","stroke-width":0.5});}
box("804,442 849,442 847,570 810,572");
box("956,443 1000,448 979,576 955,572");
box("1100,462 1150,470 1125,598 1087,592");
box("1178,468 1196,466 1203,571 1178,577");box("1197,465 1232,465 1226,568 1203,570");
box("1447,468 1478,472 1468,565 1440,565");box("1464,478 1509,484 1486,581 1458,574");
function bundle(top,bot,n,c){for(var i=0;i<=n;i++){var t=i/n;var pts=top.map(function(p,k){return [p[0]*(1-t)+bot[k][0]*t,p[1]*(1-t)+bot[k][1]*t];});
 el(lg,"path",{d:smooth(pts),fill:"none",stroke:c,"stroke-width":0.5});}
 el(lg,"path",{d:smooth(bot),fill:"none",stroke:"#1030c0","stroke-width":1.4});}
bundle([[852,471],[920,484],[990,495],[1060,495],[1139,496]],[[852,510],[920,522],[985,532],[1104,532],[1132,540]],26,"#3050f0");
bundle([[1239,504],[1330,504],[1419,504],[1460,512],[1499,520]],[[1239,520],[1330,527],[1419,532],[1460,533],[1499,536]],28,"#2040f0");
el(lg,"path",{d:"M805,504 L870,505 L1000,515 L1100,530 L1160,542",fill:"none",stroke:"#c08080","stroke-width":0.4});
el(lg,"path",{d:"M1175,518 L1300,515 L1420,520 L1540,545",fill:"none",stroke:"#c08080","stroke-width":0.4});
el(lg,"path",{d:"M1239,527 L1330,538 L1420,552 Q1425,560 1428,552 Q1440,545 1460,548 L1480,548",fill:"none",stroke:"#30c030","stroke-width":0.5});
var og=document.getElementById("osc");
var cols=["#1a2ad0","#3050e0","#20a0e0","#40c8f0","#6080f0"];
for(var k=0;k<5;k++){var pts=[];for(var i=0;i<=160;i++){var x=i/160*2-1;
var base=0.35*Math.exp(-x*x/0.5);var g=Math.exp(-Math.pow((Math.abs(x)-0.24)/0.06,2));
var y=base+g*(0.2+0.35*k)*(1+0.4*Math.cos(40*x)*(k>2?1:0));
pts.push([40+(x+1)*82.5,922-y*55]);}
var d="M"+pts.map(function(p){return p[0].toFixed(1)+","+Math.max(845,Math.min(965,p[1])).toFixed(1);}).join(" L");
el(og,"path",{d:d,stroke:cols[k],"stroke-dasharray":k>2?"1,1":"none"});}
</script>
</body></html>
